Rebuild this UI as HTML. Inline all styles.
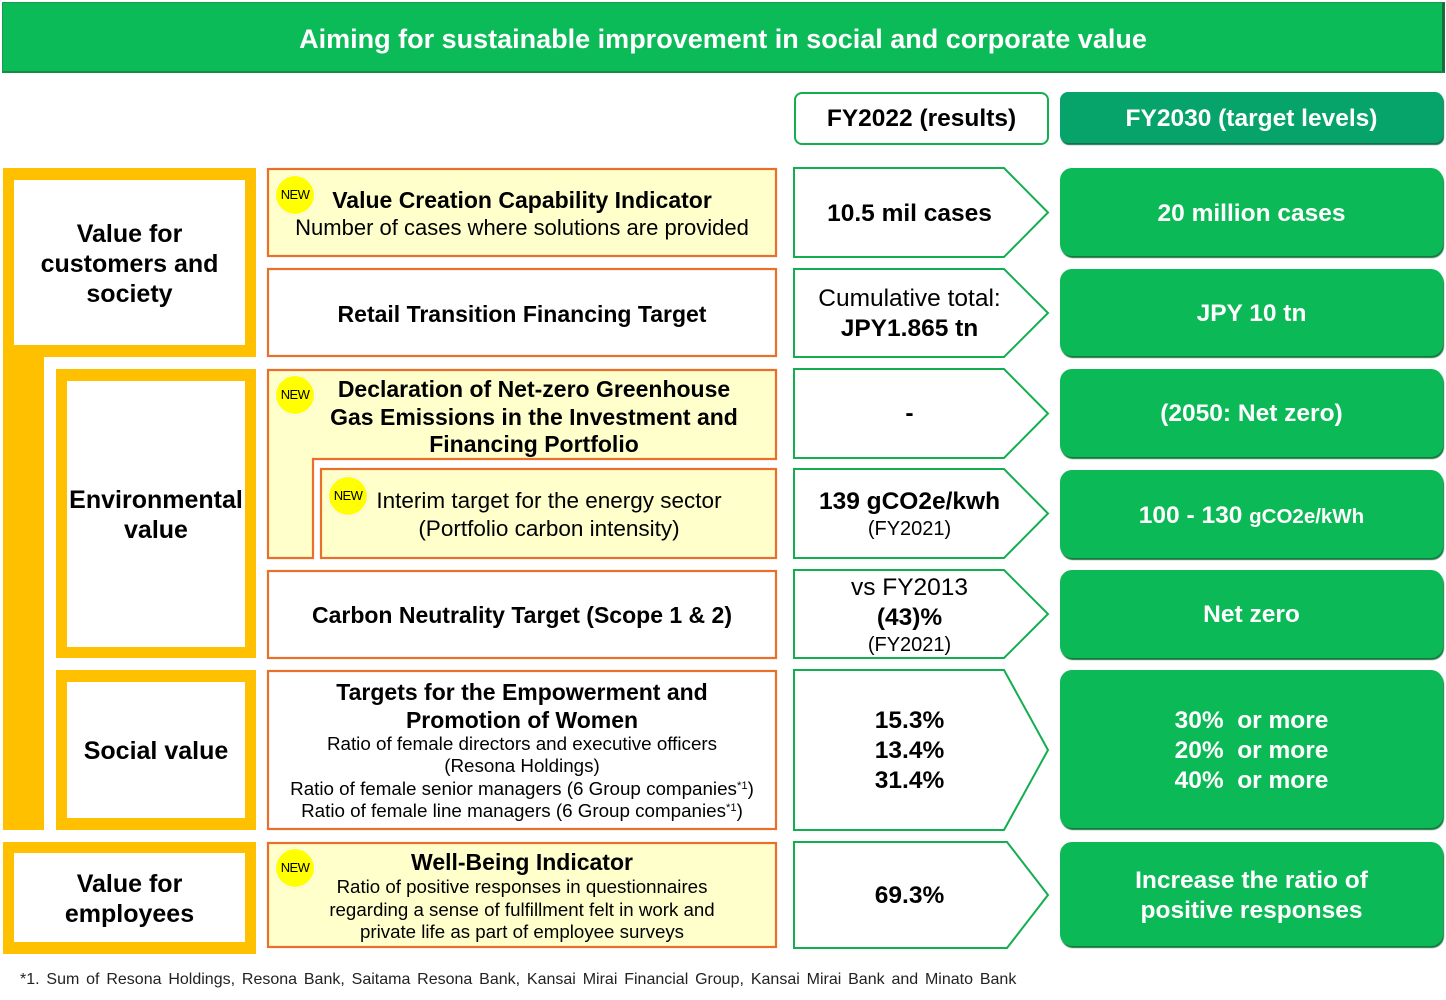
<!DOCTYPE html>
<html><head><meta charset="utf-8">
<style>
html,body{margin:0;padding:0;background:#fff;}
body{width:1446px;height:1000px;position:relative;overflow:hidden;font-family:"Liberation Sans",Arial,sans-serif;color:#000;}
.a{position:absolute;}
.t{position:absolute;text-align:center;white-space:nowrap;transform:translateY(1px);}
.b{font-weight:bold;}
.gb{position:absolute;left:1060px;width:383px;background:#0BBA56;border-radius:12px;box-shadow:1px 2px 1px #16783f;}
.new{position:absolute;width:38px;height:38px;border-radius:50%;background:#FFFF00;border:1.5px solid #fff;box-shadow:0 0 1px #ccc;font-size:13px;line-height:38px;text-align:center;letter-spacing:-0.6px;}
.w{color:#fff;}
sup{font-size:0.6em;vertical-align:0.55em;line-height:0;}
</style></head><body>

<!-- header -->
<div class="a" style="left:2px;top:2px;width:1439px;height:68px;background:#0ABB58;border:1px solid #1a9a4a;border-bottom:2px solid #178a45;border-right:3px solid #1b6b3d;"></div>
<div class="t b w" style="left:2px;top:22px;width:1442px;font-size:27px;line-height:32px;">Aiming for sustainable improvement in social and corporate value</div>

<!-- column headers -->
<div class="a" style="left:794px;top:92px;width:251px;height:49px;border:2px solid #12AE50;border-radius:8px;"></div>
<div class="t b" style="left:794px;top:104px;width:255px;font-size:24.5px;line-height:28px;">FY2022 (results)</div>
<div class="a" style="left:1060px;top:92px;width:383px;height:51px;background:#06A46A;border-radius:8px;box-shadow:1px 2px 1px #16704a;"></div>
<div class="t b w" style="left:1060px;top:104px;width:383px;font-size:24.5px;line-height:28px;">FY2030 (target levels)</div>

<!-- yellow frames -->
<div class="a" style="left:3px;top:168px;width:253px;height:189px;background:#FFC000;"></div>
<div class="a" style="left:14px;top:180px;width:231px;height:165px;background:#fff;"></div>
<div class="a" style="left:3px;top:357px;width:41px;height:473px;background:#FFC000;"></div>
<div class="a" style="left:56px;top:369px;width:200px;height:289px;background:#FFC000;"></div>
<div class="a" style="left:67px;top:381px;width:178px;height:266px;background:#fff;"></div>
<div class="a" style="left:56px;top:670px;width:200px;height:160px;background:#FFC000;"></div>
<div class="a" style="left:67px;top:682px;width:178px;height:136px;background:#fff;"></div>
<div class="a" style="left:3px;top:842px;width:253px;height:112px;background:#FFC000;"></div>
<div class="a" style="left:14px;top:853px;width:231px;height:89px;background:#fff;"></div>

<div class="t b" style="left:14px;top:218px;width:231px;font-size:25px;line-height:30px;">Value for<br>customers and<br>society</div>
<div class="t b" style="left:62px;top:484px;width:188px;font-size:25px;line-height:30px;">Environmental<br>value</div>
<div class="t b" style="left:67px;top:735px;width:178px;font-size:25px;line-height:30px;">Social value</div>
<div class="t b" style="left:14px;top:868px;width:231px;font-size:25px;line-height:30px;">Value for<br>employees</div>

<!-- SVG shapes: orange boxes and chevrons -->
<svg class="a" style="left:0;top:0" width="1446" height="1000" viewBox="0 0 1446 1000">
 <g stroke="#E8702A" stroke-width="2.2">
  <rect x="268" y="169" width="508" height="87" fill="#FFFFCC"/>
  <rect x="268" y="269" width="508" height="87" fill="#fff"/>
  <polygon points="268,370 776,370 776,459 313,459 313,558 268,558" fill="#FFFFCC"/>
  <rect x="321" y="469" width="455" height="89" fill="#FFFFCC"/>
  <rect x="268" y="571" width="508" height="87" fill="#fff"/>
  <rect x="268" y="671" width="508" height="158" fill="#fff"/>
  <rect x="268" y="843" width="508" height="104" fill="#FFFFCC"/>
 </g>
 <g stroke="#12AE50" stroke-width="2" fill="#fff">
  <polygon points="794,168 1004,168 1048,212.5 1004,257 794,257"/>
  <polygon points="794,269 1004,269 1048,313 1004,357 794,357"/>
  <polygon points="794,369 1004,369 1048,413.5 1004,458 794,458"/>
  <polygon points="794,469 1004,469 1048,513.5 1004,558 794,558"/>
  <polygon points="794,570 1004,570 1048,614 1004,658 794,658"/>
  <polygon points="794,670 1004,670 1048,750 1004,830 794,830"/>
  <polygon points="794,842 1007,842 1048,895 1007,948 794,948"/>
 </g>
</svg>

<!-- NEW badges -->
<div class="new" style="left:275px;top:175px;">NEW</div>
<div class="new" style="left:275px;top:375px;">NEW</div>
<div class="new" style="left:328px;top:476px;">NEW</div>
<div class="new" style="left:275px;top:848px;">NEW</div>

<!-- orange box texts -->
<div class="t" style="left:267px;top:186px;width:510px;font-size:22px;line-height:27px;"><span class="b" style="font-size:23px;">Value Creation Capability Indicator</span><br>Number of cases where solutions are provided</div>
<div class="t b" style="left:267px;top:299px;width:510px;font-size:23px;line-height:28px;">Retail Transition Financing Target</div>
<div class="t b" style="left:292px;top:375px;width:484px;font-size:23px;line-height:27.5px;">Declaration of Net-zero Greenhouse<br>Gas Emissions in the Investment and<br>Financing Portfolio</div>
<div class="t" style="left:321px;top:486px;width:456px;font-size:22.5px;line-height:28px;">Interim target for the energy sector<br>(Portfolio carbon intensity)</div>
<div class="t b" style="left:267px;top:600px;width:510px;font-size:23px;line-height:28px;">Carbon Neutrality Target (Scope 1 &amp; 2)</div>
<div class="t b" style="left:267px;top:677px;width:510px;font-size:23px;line-height:28px;">Targets for the Empowerment and<br>Promotion of Women</div>
<div class="t" style="left:267px;top:731.5px;width:510px;font-size:18.8px;line-height:22.6px;">Ratio of female directors and executive officers<br>(Resona Holdings)<br>Ratio of female senior managers (6 Group companies<sup>*1</sup>)<br>Ratio of female line managers (6 Group companies<sup>*1</sup>)</div>
<div class="t b" style="left:267px;top:847px;width:510px;font-size:23px;line-height:28px;">Well-Being Indicator</div>
<div class="t" style="left:267px;top:875px;width:510px;font-size:18.7px;line-height:22.5px;">Ratio of positive responses in questionnaires<br>regarding a sense of fulfillment felt in work and<br>private life as part of employee surveys</div>

<!-- chevron texts -->
<div class="t b" style="left:794px;top:199px;width:231px;font-size:24.5px;line-height:28px;">10.5 mil cases</div>
<div class="t" style="left:794px;top:283px;width:231px;font-size:24.5px;line-height:30px;">Cumulative total:<br><span class="b">JPY1.865 tn</span></div>
<div class="t b" style="left:794px;top:399px;width:231px;font-size:24.5px;line-height:28px;">-</div>
<div class="t b" style="left:794px;top:487px;width:231px;font-size:24.5px;line-height:28px;">139 gCO2e/kwh</div>
<div class="t" style="left:794px;top:516px;width:231px;font-size:20px;line-height:24px;">(FY2021)</div>
<div class="t" style="left:794px;top:572px;width:231px;font-size:24.5px;line-height:30px;">vs FY2013<br><span class="b">(43)%</span></div>
<div class="t" style="left:794px;top:632px;width:231px;font-size:20px;line-height:24px;">(FY2021)</div>
<div class="t b" style="left:794px;top:705px;width:231px;font-size:24.5px;line-height:30px;">15.3%<br>13.4%<br>31.4%</div>
<div class="t b" style="left:794px;top:881px;width:231px;font-size:24.5px;line-height:28px;">69.3%</div>

<!-- green target boxes -->
<div class="gb" style="top:168px;height:88px;"></div>
<div class="gb" style="top:269px;height:87px;"></div>
<div class="gb" style="top:369px;height:88px;"></div>
<div class="gb" style="top:470px;height:88px;"></div>
<div class="gb" style="top:570px;height:88px;"></div>
<div class="gb" style="top:670px;height:158px;"></div>
<div class="gb" style="top:842px;height:104px;"></div>

<div class="t b w" style="left:1060px;top:199px;width:383px;font-size:24.5px;line-height:28px;">20 million cases</div>
<div class="t b w" style="left:1060px;top:299px;width:383px;font-size:24.5px;line-height:28px;">JPY 10 tn</div>
<div class="t b w" style="left:1060px;top:399px;width:383px;font-size:24.5px;line-height:28px;">(2050: Net zero)</div>
<div class="t b w" style="left:1060px;top:501px;width:383px;font-size:24.5px;line-height:28px;">100 - 130 <span style="font-size:20.5px;">gCO2e/kWh</span></div>
<div class="t b w" style="left:1060px;top:600px;width:383px;font-size:24.5px;line-height:28px;">Net zero</div>
<div class="t b w" style="left:1060px;top:705px;width:383px;font-size:24.5px;line-height:30px;">30%&nbsp; or more<br>20%&nbsp; or more<br>40%&nbsp; or more</div>
<div class="t b w" style="left:1060px;top:865px;width:383px;font-size:24.5px;line-height:30px;">Increase the ratio of<br>positive responses</div>

<!-- footnote -->
<div class="a" style="left:20px;top:970px;font-size:16px;line-height:20px;color:#222;white-space:nowrap;word-spacing:2.4px;">*1. Sum of Resona Holdings, Resona Bank, Saitama Resona Bank, Kansai Mirai Financial Group, Kansai Mirai Bank and Minato Bank</div>

</body></html>
